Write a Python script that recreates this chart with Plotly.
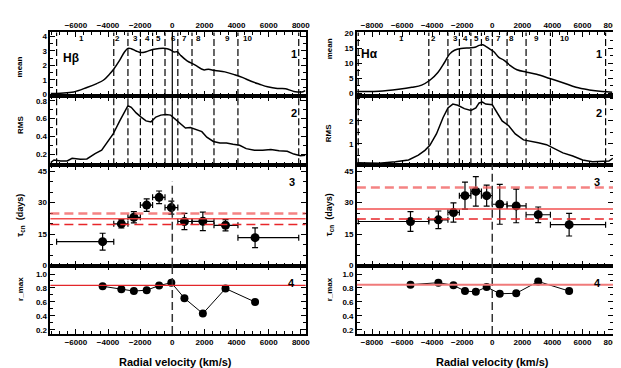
import plotly.graph_objects as go

W, H = 621, 368

# ---------------- data: H-beta ----------------
hb_mean_v = [-7567, -6953, -6135, -5317, -4704, -4295, -3886, -3640, -3272, -2965, -2761, -2556, -2250,
             -1943, -1636, -1227, -818, -409, -102, 102, 307, 511, 920, 1432, 1943, 2250, 2659, 3272,
             3886, 4397, 4908, 5420, 5931, 6544, 7055, 7567, 8078, 8282]
hb_mean = [0.05, 0.08, 0.16, 0.47, 0.74, 0.97, 1.42, 1.75, 2.36, 2.94, 3.17, 3.15, 2.99, 2.88, 2.94, 3.10,
           3.17, 3.17, 3.06, 2.92, 2.94, 2.70, 2.31, 2.02, 1.69, 1.73, 1.64, 1.55, 1.35, 1.15, 0.90, 0.70,
           0.52, 0.40, 0.38, 0.20, 0.16, 0.25]
hb_rms_v = [-7580, -7362, -6953, -6544, -6237, -5726, -5317, -4806, -4397, -4090, -3681, -3272, -2965,
            -2761, -2556, -2250, -1943, -1636, -1329, -1023, -716, -409, -102, 205, 511, 818, 1125, 1534,
            1841, 2147, 2556, 2965, 3374, 3783, 4192, 4601, 5113, 5624, 6135, 6646, 7158, 7567, 7976, 8282]
hb_rms = [0.109, 0.138, 0.127, 0.127, 0.156, 0.145, 0.149, 0.21, 0.247, 0.32, 0.429, 0.575, 0.684, 0.745,
          0.727, 0.665, 0.618, 0.575, 0.564, 0.618, 0.64, 0.647, 0.64, 0.593, 0.545, 0.495, 0.502, 0.476,
          0.455, 0.393, 0.345, 0.327, 0.327, 0.313, 0.302, 0.265, 0.247, 0.247, 0.255, 0.24, 0.236, 0.204,
          0.185, 0.19]
hb_edges = [-7203, -3644, -2761, -1988, -1227, -454, 344, 1227, 2595, 4086, 7871]
hb_bins = ["1", "2", "3", "4", "5", "6", "7", "8", "9", "10"]
hb_bin_label_v = [-5624, -3415, -2290, -1534, -859, 102, 757, 1636, 3415, 4704]
hb_v = [-4337, -3172, -2393, -1595, -822, -61, 755, 1902, 3313, 5153]
hb_tau = [11.4, 19.9, 23.0, 28.8, 32.5, 27.6, 21.0, 21.1, 19.2, 13.3]
hb_tau_err = [4.0, 2.0, 2.7, 3.0, 3.0, 3.1, 3.9, 4.4, 2.7, 4.7]
hb_tau_lines = [24.8, 22.3, 19.6]       # upper (dashed), mean (solid), lower (dashed)
hb_rmax = [0.824, 0.782, 0.755, 0.768, 0.834, 0.875, 0.653, 0.432, 0.792, 0.598]
hb_rmax_line = 0.838

# ---------------- data: H-alpha ----------------
ha_mean_v = [-8990, -7541, -6230, -5356, -4700, -4153, -3607, -3170, -2842, -2514, -2077, -1421, -1093,
             -874, -656, -437, -109, 109, 437, 765, 1202, 1640, 2295, 2951, 3826, 4700, 5574, 6449, 7323,
             7979]
ha_mean = [0.6, 0.65, 1.3, 1.95, 2.7, 4.3, 7.0, 10.3, 13.0, 14.3, 14.9, 15.1, 15.4, 15.9, 16.1, 15.6, 14.5,
           13.8, 11.9, 11.0, 9.2, 7.8, 7.0, 6.3, 4.9, 3.5, 1.95, 1.1, 0.55, 0.3]
ha_rms_v = [-8990, -7541, -6448, -5574, -4918, -4481, -4153, -3716, -3279, -2951, -2623, -2295, -1858,
            -1421, -1093, -874, -656, -437, 0, 328, 656, 1093, 1530, 2077, 2514, 3060, 3607, 4153, 4700,
            5356, 6011, 6667, 7323, 7760, 8022]
ha_rms = [0.17, 0.14, 0.21, 0.29, 0.5, 0.71, 0.93, 1.43, 2.14, 2.57, 2.74, 2.69, 2.54, 2.46, 2.57, 2.79,
          2.83, 2.74, 2.71, 2.36, 2.0, 1.79, 1.43, 1.17, 1.10, 1.04, 0.96, 0.79, 0.6, 0.46, 0.29, 0.21, 0.24,
          0.24, 0.36]
ha_edges = [-8918, -4223, -2951, -2190, -1423, -721, 0, 984, 2249, 3869, 7541]
ha_bins = ["1", "2", "3", "4", "5", "6", "7", "8", "9", "10"]
ha_bin_label_v = [-6011, -3935, -2470, -1749, -1049, -328, 437, 1312, 2951, 4809]
ha_v = [-5442, -3587, -2583, -1816, -1095, -374, 498, 1593, 3056, 5114]
ha_tau = [21.0, 21.8, 25.3, 33.3, 35.3, 33.3, 29.2, 28.4, 24.2, 19.5]
ha_tau_err = [4.7, 4.2, 4.6, 6.4, 7.0, 5.0, 9.5, 8.0, 3.7, 5.4]
ha_tau_lines = [37.2, 26.9, 22.2]
ha_rmax = [0.847, 0.875, 0.838, 0.755, 0.745, 0.814, 0.717, 0.723, 0.893, 0.755]
ha_rmax_line = 0.847

x_ticks = [-8000, -6000, -4000, -2000, 0, 2000, 4000, 6000, 8000]
ha_rms_ticks = [1, 2]

# ---------------- layout helpers ----------------
FONT = "Liberation Sans"
TF = dict(family=FONT, size=8, color="black", weight="bold")


def xd(l, r):
    return [l / W, r / W]


def yd(t, b):
    return [1 - b / H, 1 - t / H]


SIDES = [
    dict(xdom=xd(43, 302), xrange=[-7590, 8300],
         yranges=[[-0.11, 4.27], [0.08, 0.855], [0, 47.8], [0.14, 1.12]],
         ydt=[1, 0.2, 15, 0.2], ymin=[0.5, 0.1, 5, 0.1], yfmt=["", ".1f", "", ".1f"],
         yvals=[None, None, None, None]),
    dict(xdom=xd(354, 614), xrange=[-9010, 8040],
         yranges=[[-0.9, 20.2], [0.06, 3.1], [0, 47.8], [0.14, 1.12]],
         ydt=[5, 1, 15, 0.2], ymin=[2.5, 0.5, 5, 0.1], yfmt=["", "", "", ".1f"],
         yvals=[None, ha_rms_ticks, None, None]),
]
PY = [yd(21, 86), yd(86, 157), yd(157, 260), yd(260, 330)]

fig = go.Figure()
layout = {}


def ax_id(i):
    return "" if i == 1 else str(i)


for s, side in enumerate(SIDES):
    for p in range(4):
        i = s * 4 + p + 1
        xa = dict(domain=side["xdom"], range=side["xrange"], anchor="y" + ax_id(i),
                  showline=True, linecolor="black", linewidth=1.5, mirror="ticks",
                  ticks="inside", ticklen=5, tickwidth=1, tickcolor="black",
                  tickmode="array", tickvals=x_ticks,
                  minor=dict(dtick=500, tick0=0, ticks="inside", ticklen=3, tickwidth=1, tickcolor="black"),
                  showgrid=False, zeroline=False, tickfont=TF,
                  showticklabels=p in (0, 3), side="top" if p == 0 else "bottom")
        ya = dict(domain=PY[p], range=side["yranges"][p], anchor="x" + ax_id(i),
                  showline=True, linecolor="black", linewidth=1.5, mirror="ticks",
                  ticks="inside", ticklen=5, tickwidth=1, tickcolor="black",
                  minor=dict(dtick=side["ymin"][p], tick0=0, ticks="inside", ticklen=3, tickwidth=1,
                             tickcolor="black"),
                  showgrid=False, zeroline=False, tickfont=TF, tickformat=side["yfmt"][p])
        if side["yvals"][p] is not None:
            ya.update(tickmode="array", tickvals=side["yvals"][p])
        else:
            ya.update(dtick=side["ydt"][p], tick0=0)
        layout["xaxis" + ax_id(i)] = xa
        layout["yaxis" + ax_id(i)] = ya

shapes = []
annotations = []

datasets = [
    dict(mv=hb_mean_v, m=hb_mean, rv=hb_rms_v, r=hb_rms, edges=hb_edges, bins=hb_bins, blv=hb_bin_label_v,
         v=hb_v, tau=hb_tau, te=hb_tau_err, tl=hb_tau_lines, rmax=hb_rmax, rl=hb_rmax_line,
         solid_zero=True, zero_top=40, rl_color="#e3262a", rl_w=1.2),
    dict(mv=ha_mean_v, m=ha_mean, rv=ha_rms_v, r=ha_rms, edges=ha_edges, bins=ha_bins, blv=ha_bin_label_v,
         v=ha_v, tau=ha_tau, te=ha_tau_err, tl=ha_tau_lines, rmax=ha_rmax, rl=ha_rmax_line,
         solid_zero=False, zero_top=None, rl_color="#f07a7a", rl_w=2),
]

for s, d in enumerate(datasets):
    b = s * 4
    a1, a2, a3, a4 = [ax_id(b + k) for k in (1, 2, 3, 4)]
    fig.add_trace(go.Scatter(x=d["mv"], y=d["m"], mode="lines", line=dict(color="black", width=1.5),
                             xaxis="x" + a1, yaxis="y" + a1, showlegend=False, line_shape="spline"))
    fig.add_trace(go.Scatter(x=d["rv"], y=d["r"], mode="lines", line=dict(color="black", width=1.5),
                             xaxis="x" + a2, yaxis="y" + a2, showlegend=False))
    # bin edges
    for a in (a1, a2):
        for e in d["edges"]:
            shapes.append(dict(type="line", xref="x" + a, yref="y" + a + " domain", x0=e, x1=e, y0=0, y1=1,
                               line=dict(color="black", width=1.2, dash="7px,3px")))
        if d["solid_zero"]:
            shapes.append(dict(type="line", xref="x" + a, yref="y" + a + " domain", x0=0, x1=0, y0=0, y1=1,
                               line=dict(color="black", width=1.2)))
    for lab, lv in zip(d["bins"], d["blv"]):
        annotations.append(dict(text=lab, x=lv, y=0.905, xref="x" + a1, yref="y" + a1 + " domain",
                                showarrow=False, font=dict(family=FONT, size=8, color="black", weight="bold"),
                                xanchor="center", yanchor="middle"))
    # tau panel
    e_lo = [v - d["edges"][k] for k, v in enumerate(d["v"])]
    e_hi = [d["edges"][k + 1] - v for k, v in enumerate(d["v"])]
    up, mean, lo = d["tl"]
    shapes.append(dict(type="line", xref="x" + a3 + " domain", yref="y" + a3, x0=0, x1=1, y0=up, y1=up,
                       line=dict(color="rgba(240,90,90,0.75)", width=2.5, dash="9px,5px")))
    shapes.append(dict(type="line", xref="x" + a3 + " domain", yref="y" + a3, x0=0, x1=1, y0=mean, y1=mean,
                       line=dict(color="rgba(240,60,60,0.9)", width=1.5)))
    shapes.append(dict(type="line", xref="x" + a3 + " domain", yref="y" + a3, x0=0, x1=1, y0=lo, y1=lo,
                       line=dict(color="#e8262a", width=1.5, dash="9px,5px")))
    if d["zero_top"] is None:
        shapes.append(dict(type="line", xref="x" + a3, yref="y" + a3 + " domain", x0=0, x1=0, y0=0, y1=1,
                           line=dict(color="#333333", width=1.5, dash="8px,4px")))
    else:
        shapes.append(dict(type="line", xref="x" + a3, yref="y" + a3, x0=0, x1=0, y0=0, y1=d["zero_top"],
                           line=dict(color="#333333", width=1.5, dash="8px,4px")))
    shapes.append(dict(type="line", xref="x" + a4, yref="y" + a4 + " domain", x0=0, x1=0, y0=0, y1=1,
                       line=dict(color="#333333", width=1.5, dash="8px,4px")))
    shapes.append(dict(type="line", xref="x" + a4 + " domain", yref="y" + a4, x0=0, x1=1, y0=d["rl"],
                       y1=d["rl"], line=dict(color=d["rl_color"], width=d["rl_w"])))
    fig.add_trace(go.Scatter(x=d["v"], y=d["tau"], mode="markers",
                             marker=dict(color="black", size=9),
                             error_x=dict(type="data", array=e_hi, arrayminus=e_lo, symmetric=False,
                                          color="black", thickness=1.2, width=3),
                             error_y=dict(type="data", array=d["te"], color="black", thickness=1.2, width=3),
                             xaxis="x" + a3, yaxis="y" + a3, showlegend=False))
    fig.add_trace(go.Scatter(x=d["v"], y=d["rmax"], mode="lines+markers",
                             marker=dict(color="black", size=8), line=dict(color="black", width=1),
                             xaxis="x" + a4, yaxis="y" + a4, showlegend=False))


def pann(text, px, py, size=11, angle=0, **kw):
    annotations.append(dict(text=text, x=px / W, y=1 - py / H, xref="paper", yref="paper", showarrow=False,
                            textangle=angle, font=dict(family=FONT, size=size, color="black", weight="bold"),
                            xanchor="center", yanchor="middle", **kw))


# panel numbers
for px in (290, 600):
    pann("1", px, 43)
    pann("2", px, 104)
    pann("3", px - 2, 174)
    pann("4", px - 2, 278)
pann("H\u03b2", 64, 47, size=12)
pann("H\u03b1", 367, 43, size=12)

# axis titles
for x0, ym, yr in ((12, 56, 116), (326, 38, 124)):
    pann("mean", x0, ym, size=8, angle=-90)
    pann("RMS", x0, yr, size=8, angle=-90)
    pann("\u03c4<sub>cn</sub>  (days)", x0 + 1, 208, size=9, angle=-90)
    pann("r_max", x0, 284, size=8, angle=-90)
pann("Radial velocity (km/s)", 170, 359, size=11)
pann("Radial velocity (km/s)", 492, 359, size=11)

fig.update_layout(**layout)
fig.update_layout(width=W, height=H, margin=dict(l=0, r=0, t=0, b=0), paper_bgcolor="white",
                  plot_bgcolor="white", shapes=shapes, annotations=annotations, showlegend=False,
                  font=dict(family=FONT, size=8, color="black"))

fig.write_html("out.html")
